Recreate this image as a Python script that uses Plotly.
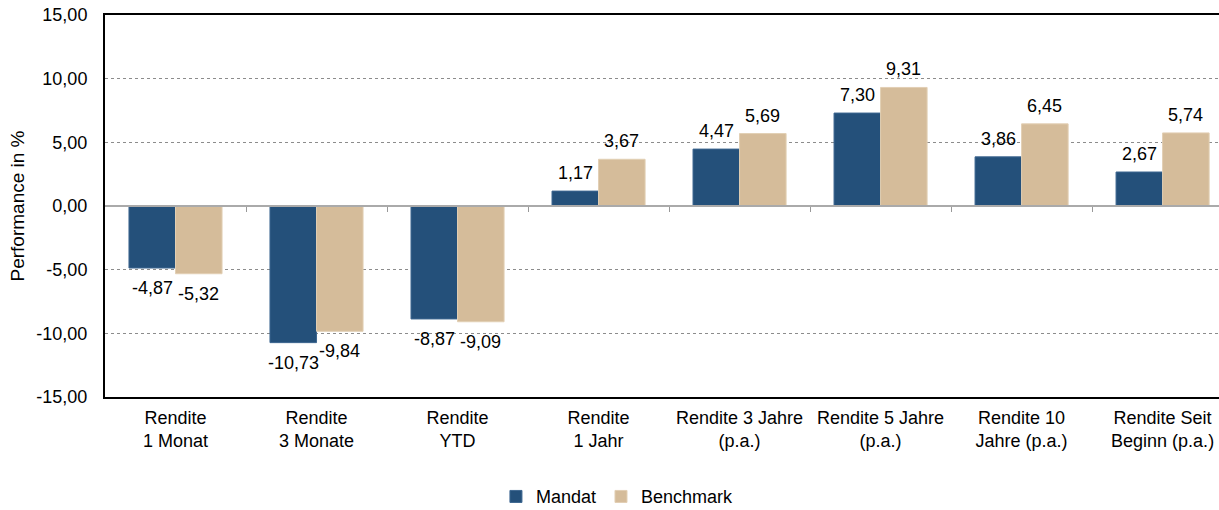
import plotly.graph_objects as go

categories = ["Rendite<br>1 Monat", "Rendite<br>3 Monate", "Rendite<br>YTD", "Rendite<br>1 Jahr",
              "Rendite 3 Jahre<br>(p.a.)", "Rendite 5 Jahre<br>(p.a.)", "Rendite 10<br>Jahre (p.a.)",
              "Rendite Seit<br>Beginn (p.a.)"]
mandat = [-4.87, -10.73, -8.87, 1.17, 4.47, 7.30, 3.86, 2.67]
benchmark = [-5.32, -9.84, -9.09, 3.67, 5.69, 9.31, 6.45, 5.74]
y_ticks = [-15, -10, -5, 0, 5, 10, 15]
y_tick_labels = ["-15,00", "-10,00", "-5,00", "0,00", "5,00", "10,00", "15,00"]

FONT = "Liberation Sans, Arial, sans-serif"
BARGAP = 0.34
fmt = lambda v: f"{v:.2f}".replace(".", ",")
xs = list(range(len(categories)))

fig = go.Figure()
fig.add_trace(go.Bar(x=xs, y=mandat, name="Mandat",
                     marker=dict(color="#24507a", line=dict(color="#3d6690", width=1))))
fig.add_trace(go.Bar(x=xs, y=benchmark, name="Benchmark",
                     marker=dict(color="#d5bc9a", line=dict(color="#e2cfb4", width=1))))

# value labels, placed at the bar ends with a gap like the original
half = (1 - BARGAP) / 4
for offset, series in ((-half, mandat), (half, benchmark)):
    for x, v in zip(xs, series):
        fig.add_annotation(x=x + offset, y=v, text=fmt(v), showarrow=False,
                           yanchor="bottom" if v >= 0 else "top",
                           yshift=6 if v >= 0 else -8,
                           font=dict(size=18, color="black"))

fig.update_layout(
    width=1219, height=510,
    margin=dict(l=105, r=0, t=15, b=113),
    template="simple_white",
    barmode="group", bargap=BARGAP, bargroupgap=0,
    font=dict(family=FONT, size=18, color="black"),
    legend=dict(orientation="h", x=0.46, xanchor="center", yref="container", y=0.026,
                yanchor="middle", font=dict(size=18), itemwidth=30, traceorder="normal"),
    xaxis=dict(range=[-0.5, 7.4], tickmode="array", tickvals=xs, automargin=False,
               ticktext=categories, ticks="", showline=True, linecolor="black", linewidth=2,
               mirror=True, tickfont=dict(size=18), ticklabelstandoff=3),
    xaxis2=dict(overlaying="x", anchor="free", position=0.5, range=[-0.5, 7.4],
                tickmode="array", tickvals=[i + 0.5 for i in xs[:-1]], automargin=False,
                showticklabels=False, ticks="outside", ticklen=5, tickcolor="#999999",
                showline=True, linecolor="#aaaaaa", linewidth=2, showgrid=False),
    yaxis=dict(range=[-15, 15], tickmode="array", tickvals=y_ticks, ticktext=y_tick_labels,
               ticks="", showline=True, linecolor="black", linewidth=2, automargin=False,
               showgrid=True, gridcolor="#8c8c8c", griddash="dot", gridwidth=1,
               zeroline=False, ticklabelstandoff=12,
               title=dict(text="Performance in %", font=dict(size=19), standoff=7),
               tickfont=dict(size=18)),
)
# invisible helper so the zero-line axis is rendered
fig.add_trace(go.Scatter(x=[0], y=[0], xaxis="x2", mode="markers", marker=dict(opacity=0),
                         showlegend=False, hoverinfo="skip"))

fig.write_html("out.html", config={"displayModeBar": False},
               post_script="document.body.style.margin='0';")
